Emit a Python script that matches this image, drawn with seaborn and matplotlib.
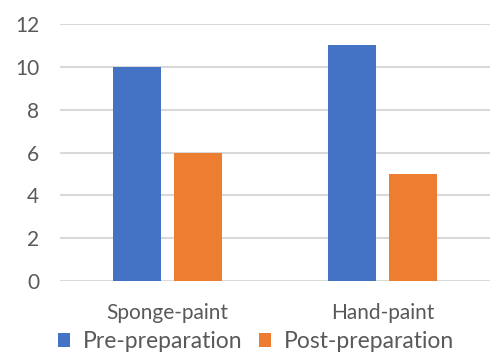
import matplotlib
matplotlib.use("Agg")
import matplotlib.pyplot as plt
import seaborn as sns
import pandas as pd
from matplotlib.patches import Patch

categories = ["Sponge-paint", "Hand-paint"]
series_names = ["Pre-preparation", "Post-preparation"]
pre_values = [10, 11]
post_values = [6, 5]
y_ticks = [0, 2, 4, 6, 8, 10, 12]

colors = ["#4472C4", "#ED7D31"]
text_color = "#595959"

sns.set_theme(style="white")
plt.rcParams["font.family"] = ["Lato", "DejaVu Sans"]

df = pd.DataFrame({
    "category": categories * 2,
    "series": [series_names[0]] * 2 + [series_names[1]] * 2,
    "value": pre_values + post_values,
})

fig = plt.figure(figsize=(4.9, 3.54), dpi=100)
ax = fig.add_axes([0.1224, 0.2062, 0.8776, 0.7260])

sns.barplot(data=df, x="category", y="value", hue="series", order=categories,
            hue_order=series_names, palette=colors, width=0.571, gap=0.226,
            saturation=1, linewidth=0, ax=ax, legend=False, zorder=3)

ax.set_ylim(0, 12)
ax.set_yticks(y_ticks)
ax.set_xlim(-0.5, 1.5)
ax.yaxis.grid(True, color="#d9d9d9", linewidth=1.5, zorder=0)
ax.set_axisbelow(True)
for s in ax.spines.values():
    s.set_visible(False)
ax.set_xlabel("")
ax.set_ylabel("")
ax.tick_params(axis="both", length=0, labelsize=15, colors=text_color)
ax.tick_params(axis="y", pad=15)
ax.tick_params(axis="x", pad=16)

handles = [Patch(facecolor=c, edgecolor="none") for c in colors]
fig.legend(handles, series_names, loc="center left", bbox_to_anchor=(0.09, 0.036),
           ncol=2, frameon=False, fontsize=16.5, labelcolor=text_color,
           handlelength=0.55, handleheight=0.55, handletextpad=0.55, columnspacing=0.7,
           borderpad=0.1)

fig.savefig("out.png", dpi=100)
